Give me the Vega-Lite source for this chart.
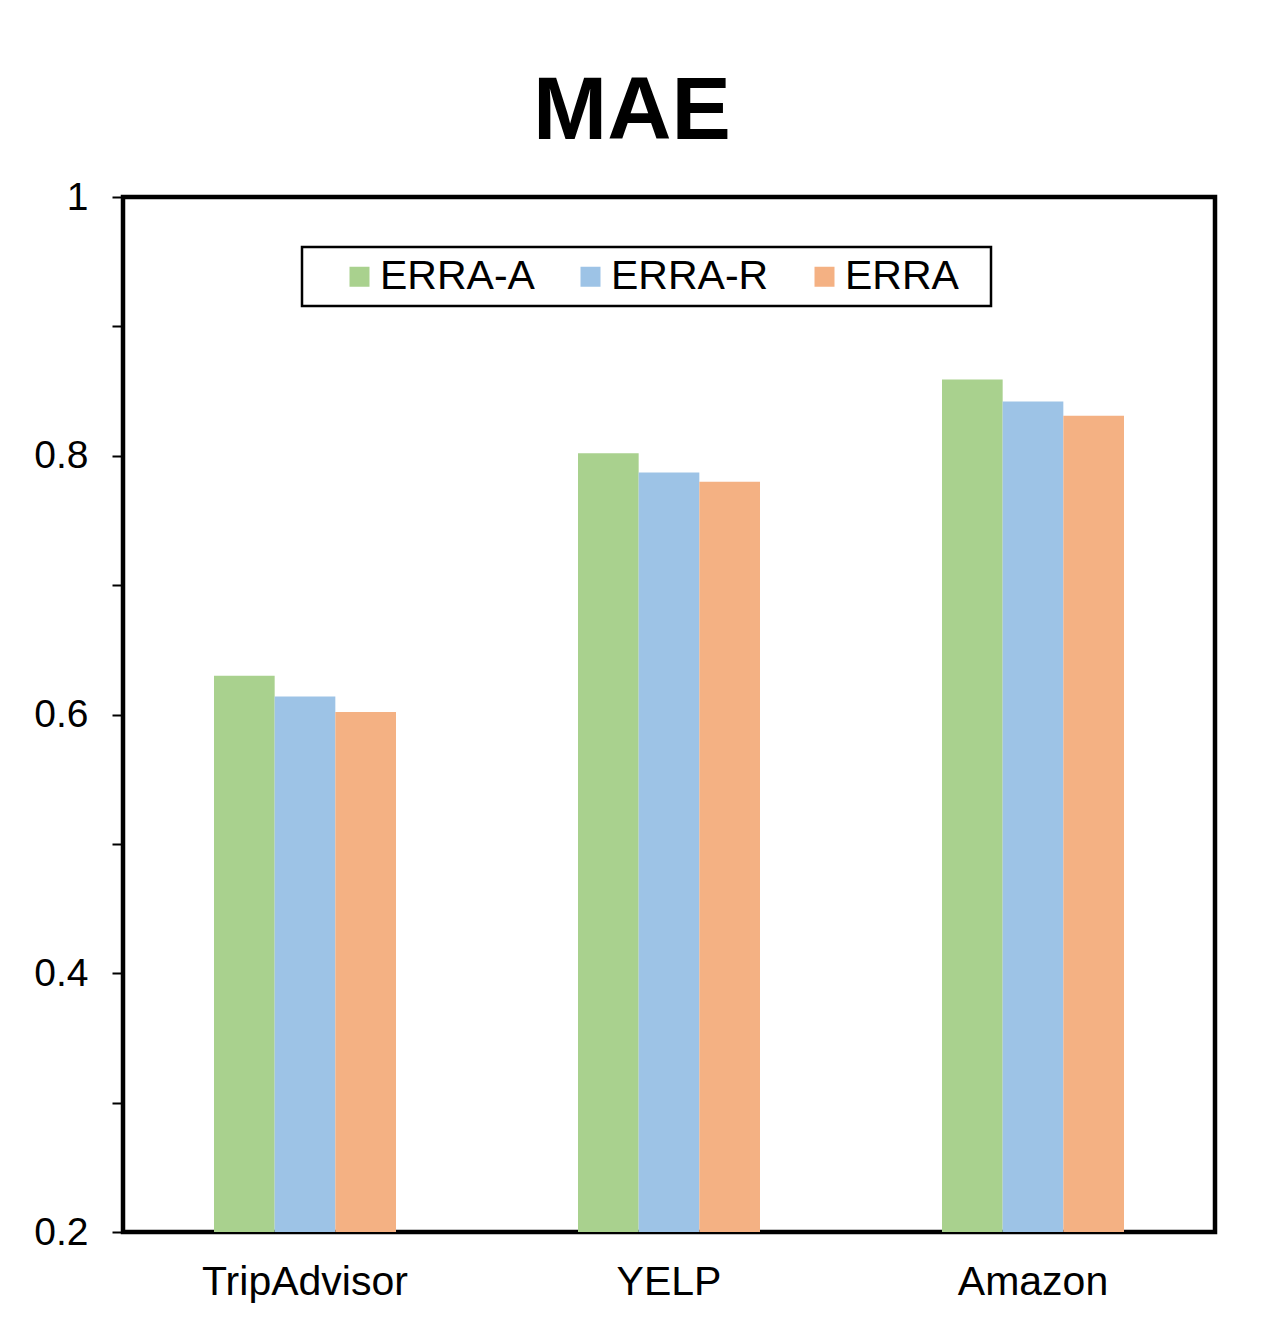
{
  "$schema": "https://vega.github.io/schema/vega-lite/v6.json",
  "autosize": "none",
  "width": 1092,
  "height": 1035,
  "padding": {"left": 123, "top": 197, "right": 48, "bottom": 101},
  "background": "white",
  "view": {"stroke": "black", "strokeWidth": 4.5},
  "title": {
    "text": "MAE",
    "font": "Liberation Sans",
    "fontSize": 89,
    "fontWeight": "bold",
    "color": "black",
    "anchor": "middle",
    "dx": -37,
    "offset": 20
  },
  "config": {
    "font": "Liberation Sans",
    "view": {"stroke": "black", "strokeWidth": 4.5},
    "axis": {"labelFont": "Liberation Sans", "labelColor": "black", "titleFont": "Liberation Sans"},
    "legend": {"strokeColor": "black", "strokeWidth": 2.5, "fillColor": "white"}
  },
  "data": {
    "values": [
      {"dataset": "TripAdvisor", "model": "ERRA-A", "value": 0.630},
      {"dataset": "TripAdvisor", "model": "ERRA-R", "value": 0.614},
      {"dataset": "TripAdvisor", "model": "ERRA", "value": 0.602},
      {"dataset": "YELP", "model": "ERRA-A", "value": 0.802},
      {"dataset": "YELP", "model": "ERRA-R", "value": 0.787},
      {"dataset": "YELP", "model": "ERRA", "value": 0.780},
      {"dataset": "Amazon", "model": "ERRA-A", "value": 0.859},
      {"dataset": "Amazon", "model": "ERRA-R", "value": 0.842},
      {"dataset": "Amazon", "model": "ERRA", "value": 0.831}
    ]
  },
  "resolve": {"axis": {"y": "independent"}},
  "layer": [
    {
      "mark": {"type": "bar"},
      "encoding": {
        "x": {
          "field": "dataset",
          "type": "nominal",
          "sort": ["TripAdvisor", "YELP", "Amazon"],
          "scale": {"paddingInner": 0.5, "paddingOuter": 0.25},
          "axis": {
            "title": null,
            "ticks": false,
            "domain": false,
            "labelAngle": 0,
            "labelFontSize": 41,
            "labelLimit": 500,
            "labelPadding": 30
          }
        },
        "xOffset": {
          "field": "model",
          "type": "nominal",
          "sort": ["ERRA-A", "ERRA-R", "ERRA"],
          "scale": {"paddingInner": 0, "paddingOuter": 0}
        },
        "y": {
          "field": "value",
          "type": "quantitative",
          "scale": {"domain": [0.2, 1], "zero": false, "nice": false},
          "axis": {
            "title": null,
            "orient": "left",
            "values": [0.2, 0.4, 0.6, 0.8, 1],
            "labelExpr": "datum.value == 1 ? '1' : format(datum.value, '.1f')",
            "labelFontSize": 39,
            "labelPadding": 24,
            "tickSize": 11,
            "tickWidth": 2,
            "tickColor": "black",
            "domain": false,
            "grid": false
          }
        },
        "y2": {"datum": 0.2},
        "color": {
          "field": "model",
          "type": "nominal",
          "sort": ["ERRA-A", "ERRA-R", "ERRA"],
          "scale": {
            "domain": ["ERRA-A", "ERRA-R", "ERRA"],
            "range": ["#A9D18E", "#9DC3E6", "#F4B183"]
          },
          "legend": {
            "title": " ",
            "titleOrient": "right",
            "titleFontSize": 40,
            "titlePadding": 23,
            "orient": "none",
            "legendX": 179,
            "legendY": 50,
            "direction": "horizontal",
            "symbolType": "square",
            "symbolSize": 400,
            "symbolStrokeWidth": 0,
            "symbolOffset": 28,
            "labelFontSize": 41,
            "labelColor": "black",
            "labelFont": "Liberation Sans",
            "labelOffset": 0,
            "columnPadding": 7,
            "padding": 9
          }
        }
      }
    },
    {
      "mark": {"type": "rule", "opacity": 0},
      "encoding": {
        "y": {
          "field": "value",
          "type": "quantitative",
          "scale": {"domain": [0.2, 1], "zero": false, "nice": false},
          "axis": {
            "title": null,
            "orient": "left",
            "values": [0.3, 0.5, 0.7, 0.9],
            "labels": false,
            "tickSize": 11,
            "tickWidth": 2,
            "tickColor": "black",
            "domain": false,
            "grid": false
          }
        }
      }
    }
  ]
}
